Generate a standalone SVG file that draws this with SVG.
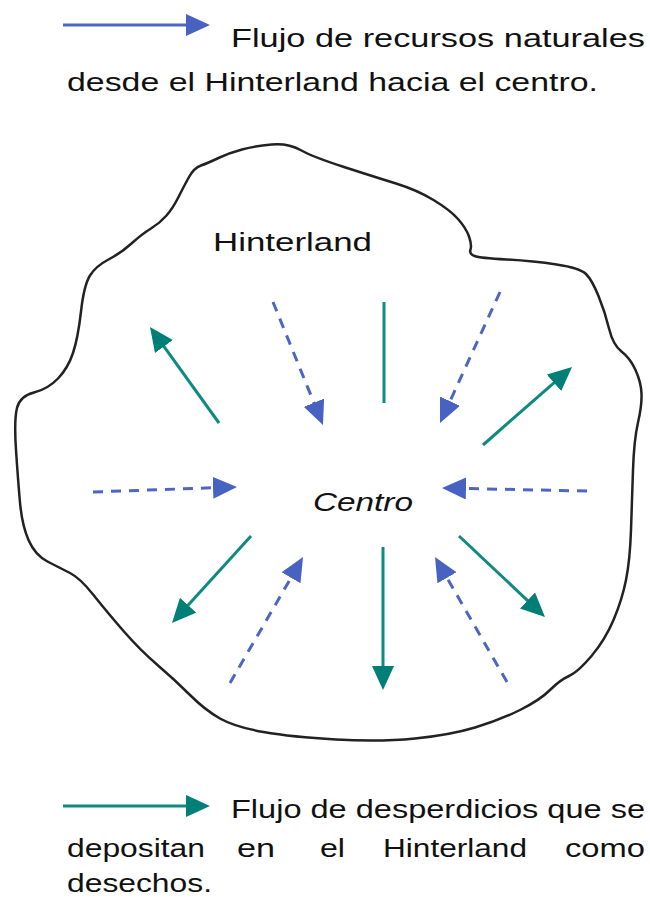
<svg xmlns="http://www.w3.org/2000/svg" width="650" height="902" viewBox="0 0 650 902">
<defs>
<style>
.txt{font-family:"Liberation Sans","DejaVu Sans",sans-serif;font-size:26px;fill:#111}
.teal{stroke:#0e8a80;stroke-width:3;fill:none}
.blue{stroke:#4d66c4;stroke-width:3;fill:none}
.dash{stroke-dasharray:10 8}
.outline{fill:#fff;stroke:#222;stroke-width:2.5;stroke-linejoin:round}
</style>
<marker id="hTeal" markerUnits="userSpaceOnUse" markerWidth="26" markerHeight="24" refX="14" refY="11" orient="auto">
<path d="M0,0 L24,11 L0,22 z" fill="#007f77"/>
</marker>
<marker id="hBlue" markerUnits="userSpaceOnUse" markerWidth="26" markerHeight="24" refX="14" refY="11" orient="auto">
<path d="M0,0 L24,11 L0,22 z" fill="#4862c2"/>
</marker>
</defs>
<rect width="650" height="902" fill="#fff"/>

<g id="hinterland">
<path class="outline" d="M271.5,144.5 Q288,143 300.5,150 Q313,157 344,167 Q375,177 396,183.5 Q417,190 433.5,200 Q450,210 458,219 Q466,228 469,236.5 Q472,245 470.5,249.5 Q469,254 474.5,256 Q480,258 506.5,259.5 Q533,261 556.5,264.5 Q580,268 586,274 Q592,280 598.5,296 Q605,312 609,328.5 Q613,345 621.5,351.5 Q630,358 635.5,370 Q641,382 641.5,393.5 Q642,405 638,422.5 Q634,440 633,470 Q632,500 631,530 Q630,560 626,580 Q622,600 613.5,620 Q605,640 591.5,656 Q578,672 569,676 Q560,680 550,690 Q540,700 520,710 Q500,720 475,727.5 Q450,735 415,738.5 Q380,742 336,739.5 Q292,737 263.5,732 Q235,727 220,718.5 Q205,710 190,695 Q175,680 157.5,665 Q140,650 123.5,631 Q107,612 93.5,595 Q80,578 70,573 Q60,568 47.5,561.5 Q35,555 28.5,540 Q22,525 20,502.5 Q18,480 16,450 Q14,420 17,408 Q20,396 34,392.5 Q48,389 58,378.5 Q68,368 73,353 Q78,338 81,311.5 Q84,285 90,275.5 Q96,266 108.5,259.5 Q121,253 131.5,243.5 Q142,234 151,228.5 Q160,223 166.5,215.5 Q173,208 178.5,197 Q184,186 189,177 Q194,168 201,165.5 Q208,163 218.5,158 Q229,153 242,149.5 Q255,146 271.5,144.5 Z"/>
<text class="txt" x="213" y="251" textLength="159" lengthAdjust="spacingAndGlyphs">Hinterland</text>
</g>

<g id="centro">
<text class="txt" x="313" y="511" textLength="100" lengthAdjust="spacingAndGlyphs" font-style="italic">Centro</text>
</g>

<g id="connectors">
<line class="teal" x1="219" y1="423" x2="155.8" y2="335.1" marker-end="url(#hTeal)"/>
<line class="blue dash" x1="273" y1="302" x2="319.2" y2="415.7" marker-end="url(#hBlue)"/>
<line class="teal" x1="384" y1="302" x2="384" y2="403"/>
<line class="blue dash" x1="500" y1="292" x2="444.2" y2="413.9" marker-end="url(#hBlue)"/>
<line class="teal" x1="483" y1="445" x2="564.5" y2="373.6" marker-end="url(#hTeal)"/>
<line class="blue dash" x1="93" y1="492" x2="227" y2="487.3" marker-end="url(#hBlue)"/>
<line class="blue dash" x1="587" y1="491" x2="452" y2="488.2" marker-end="url(#hBlue)"/>
<line class="teal" x1="251" y1="536" x2="178.7" y2="615.6" marker-end="url(#hTeal)"/>
<line class="blue dash" x1="230" y1="683" x2="298" y2="565.7" marker-end="url(#hBlue)"/>
<line class="teal" x1="383" y1="547" x2="383" y2="680" marker-end="url(#hTeal)"/>
<line class="blue dash" x1="507" y1="682" x2="440" y2="565.7" marker-end="url(#hBlue)"/>
<line class="teal" x1="459" y1="536" x2="537.7" y2="610.1" marker-end="url(#hTeal)"/>
</g>

<g id="legend-recursos">
<line class="blue" x1="63" y1="25" x2="200" y2="25" marker-end="url(#hBlue)"/>
<text class="txt" x="231" y="47" textLength="414" lengthAdjust="spacingAndGlyphs">Flujo de recursos naturales</text>
<text class="txt" x="67" y="91" textLength="531" lengthAdjust="spacingAndGlyphs">desde el Hinterland hacia el centro.</text>
</g>

<g id="legend-desperdicios">
<line class="teal" x1="63" y1="806" x2="200" y2="806" marker-end="url(#hTeal)"/>
<text class="txt" x="231" y="818" textLength="414" lengthAdjust="spacingAndGlyphs">Flujo de desperdicios que se</text>
<text class="txt" y="857"><tspan x="67" textLength="138" lengthAdjust="spacingAndGlyphs">depositan</tspan><tspan x="237" textLength="38" lengthAdjust="spacingAndGlyphs">en</tspan><tspan x="320" textLength="25" lengthAdjust="spacingAndGlyphs">el</tspan><tspan x="383" textLength="144" lengthAdjust="spacingAndGlyphs">Hinterland</tspan><tspan x="565" textLength="80" lengthAdjust="spacingAndGlyphs">como</tspan></text>
<text class="txt" x="67" y="892" textLength="145" lengthAdjust="spacingAndGlyphs">desechos.</text>
</g>
</svg>
